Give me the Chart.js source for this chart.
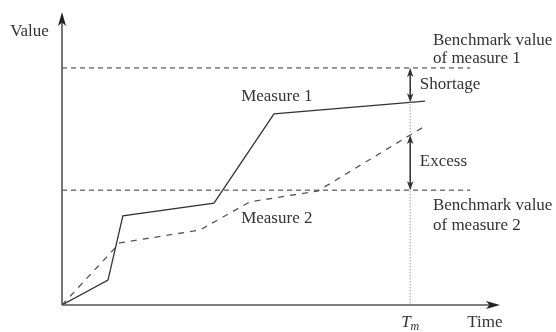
<!DOCTYPE html>
<html>
<head>
<meta charset="utf-8">
<script src="https://cdn.jsdelivr.net/npm/chart.js@4.4.1/dist/chart.umd.min.js"></script>
<style>
  html, body { margin: 0; padding: 0; background: #ffffff; }
  #wrap { width: 556px; height: 332px; }
</style>
</head>
<body>
<div id="wrap"><canvas id="c" width="556" height="332"></canvas></div>
<script>
// ---- data (arbitrary units) ----
const measure1Time  = [0, 10.5, 13.9, 34.7, 48.4, 82.9];
const measure1Value = [0, 8.5, 30.4, 34.8, 65.2, 69.6];
const measure2Time  = [0, 13.2, 31.5, 42.9, 58.4, 82.9];
const measure2Value = [0, 21.2, 25.6, 35.2, 38.9, 61.1];
const benchmark1 = 80.9;
const benchmark2 = 39.2;
const benchmarkEnd = 93.2;
const timeTm = 79.5;
const axisMax = 100;

function toXY(xs, ys) { return xs.map((x, i) => ({ x: x, y: ys[i] })); }
function interp(xs, ys, x) {
  for (let i = 1; i < xs.length; i++) {
    if (x <= xs[i]) {
      const t = (x - xs[i - 1]) / (xs[i] - xs[i - 1]);
      return ys[i - 1] + t * (ys[i] - ys[i - 1]);
    }
  }
  return ys[ys.length - 1];
}
const m1AtTm = interp(measure1Time, measure1Value, timeTm);
const m2AtTm = interp(measure2Time, measure2Value, timeTm);

const FONT = '17px "Liberation Serif", "DejaVu Serif", serif';
const TXT = '#333333';

const labels = [
  { text: 'Value', x: -3.0, y: 93.5, align: 'right' },
  { text: 'Benchmark value', x: 84.7, y: 90.4, align: 'left' },
  { text: 'of measure 1', x: 84.7, y: 84.0, align: 'left' },
  { text: 'Shortage', x: 81.7, y: 75.4, align: 'left' },
  { text: 'Excess', x: 81.7, y: 48.8, align: 'left' },
  { text: 'Benchmark value', x: 84.7, y: 33.8, align: 'left' },
  { text: 'of measure 2', x: 84.7, y: 27.0, align: 'left' },
  { text: 'Measure 1', x: 40.9, y: 71.0, align: 'left' },
  { text: 'Measure 2', x: 40.9, y: 29.4, align: 'left' },
  { text: 'Time', x: 92.5, y: -6.1, align: 'left' }
];

function arrowHead(ctx, x, y, dx, dy, len, half) {
  const n = Math.hypot(dx, dy); const ux = dx / n, uy = dy / n;
  ctx.beginPath();
  ctx.moveTo(x, y);
  ctx.lineTo(x - ux * len - uy * half, y - uy * len + ux * half);
  ctx.lineTo(x - ux * len * 0.75, y - uy * len * 0.75);
  ctx.lineTo(x - ux * len + uy * half, y - uy * len - ux * half);
  ctx.closePath();
  ctx.fill();
}

function doubleArrow(ctx, x, y1, y2) {
  ctx.save();
  ctx.strokeStyle = '#333'; ctx.fillStyle = '#333'; ctx.lineWidth = 1.5;
  ctx.beginPath(); ctx.moveTo(x, y1 + 4); ctx.lineTo(x, y2 - 4); ctx.stroke();
  arrowHead(ctx, x, y1, 0, -1, 9, 3.2);
  arrowHead(ctx, x, y2, 0, 1, 9, 3.2);
  ctx.restore();
}

const decor = {
  id: 'decor',
  afterDatasetsDraw(chart) {
    const ctx = chart.ctx;
    const xs = chart.scales.x, ys = chart.scales.y;
    const x0 = xs.getPixelForValue(0), y0 = ys.getPixelForValue(0);
    const xEnd = xs.getPixelForValue(axisMax), yEnd = ys.getPixelForValue(axisMax);
    ctx.save();
    // axes
    ctx.strokeStyle = '#555'; ctx.fillStyle = '#222'; ctx.lineWidth = 1.6;
    ctx.beginPath(); ctx.moveTo(x0, y0); ctx.lineTo(xEnd - 6, y0); ctx.stroke();
    ctx.beginPath(); ctx.moveTo(x0, y0); ctx.lineTo(x0, yEnd + 6); ctx.stroke();
    arrowHead(ctx, xEnd, y0, 1, 0, 14, 4);
    arrowHead(ctx, x0, yEnd, 0, -1, 14, 4);
    // double arrows at Tm
    const xt = xs.getPixelForValue(timeTm);
    doubleArrow(ctx, xt, ys.getPixelForValue(benchmark1), ys.getPixelForValue(m1AtTm));
    doubleArrow(ctx, xt, ys.getPixelForValue(m2AtTm), ys.getPixelForValue(benchmark2));
    // labels
    ctx.fillStyle = TXT; ctx.font = FONT; ctx.textBaseline = 'middle';
    labels.forEach(l => {
      ctx.textAlign = l.align;
      ctx.fillText(l.text, xs.getPixelForValue(l.x), ys.getPixelForValue(l.y));
    });
    // T_m
    const ty = ys.getPixelForValue(-6.0);
    ctx.textAlign = 'left';
    ctx.font = 'italic 17px "Liberation Serif", serif';
    const tw = ctx.measureText('T').width;
    ctx.font = 'italic 12px "Liberation Serif", serif';
    const mw = ctx.measureText('m').width;
    const start = xt - (tw + mw) / 2;
    ctx.font = 'italic 17px "Liberation Serif", serif';
    ctx.fillText('T', start, ty);
    ctx.font = 'italic 12px "Liberation Serif", serif';
    ctx.fillText('m', start + tw, ty + 4);
    ctx.restore();
  }
};

new Chart(document.getElementById('c'), {
  type: 'scatter',
  data: {
    datasets: [
      { label: 'Tm', data: [{ x: timeTm, y: benchmark1 }, { x: timeTm, y: 0 }], showLine: true,
        borderColor: '#b0b0b0', borderWidth: 1.2, borderDash: [1.5, 1.5], pointRadius: 0 },
      { label: 'Benchmark 1', data: [{ x: 0, y: benchmark1 }, { x: benchmarkEnd, y: benchmark1 }], showLine: true,
        borderColor: '#333', borderWidth: 1, borderDash: [5, 4], pointRadius: 0 },
      { label: 'Benchmark 2', data: [{ x: 0, y: benchmark2 }, { x: benchmarkEnd, y: benchmark2 }], showLine: true,
        borderColor: '#333', borderWidth: 1, borderDash: [5, 4], pointRadius: 0 },
      { label: 'Measure 1', data: toXY(measure1Time, measure1Value), showLine: true,
        borderColor: '#333', borderWidth: 1.3, pointRadius: 0, tension: 0 },
      { label: 'Measure 2', data: toXY(measure2Time, measure2Value), showLine: true,
        borderColor: '#555', borderWidth: 1.3, borderDash: [6, 6], pointRadius: 0, tension: 0 }
    ]
  },
  options: {
    responsive: false,
    animation: false,
    events: [],
    layout: { padding: { left: 62, right: 56, top: 12, bottom: 27 } },
    plugins: { legend: { display: false }, tooltip: { enabled: false } },
    scales: {
      x: { type: 'linear', min: 0, max: axisMax, display: false },
      y: { type: 'linear', min: 0, max: axisMax, display: false }
    }
  },
  plugins: [decor]
});
</script>
</body>
</html>
